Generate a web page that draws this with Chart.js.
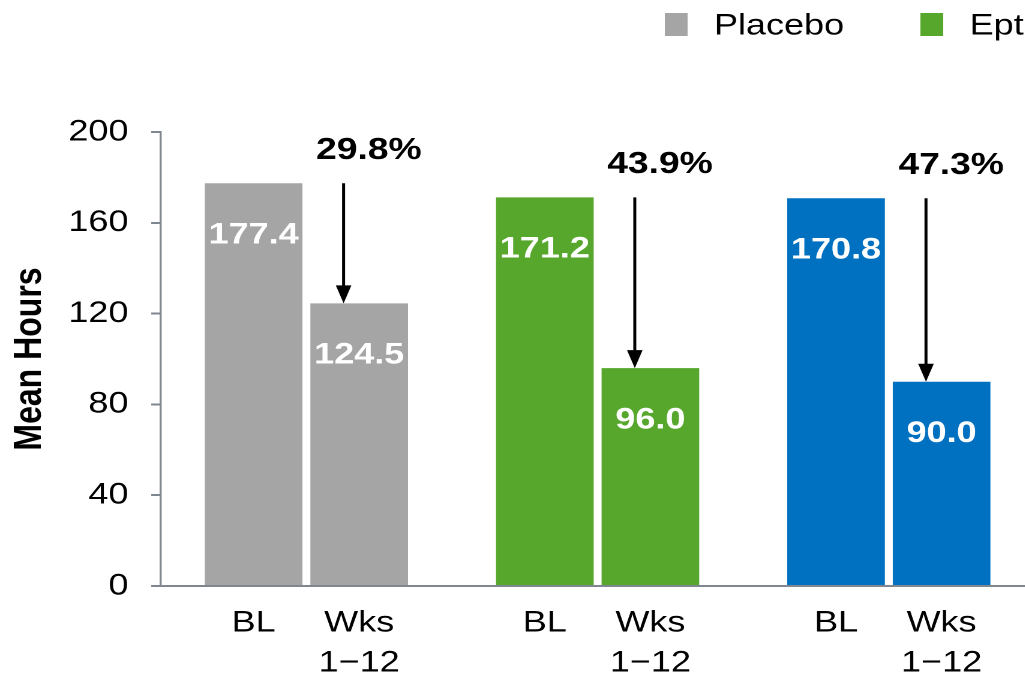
<!DOCTYPE html>
<html lang="en">
<head>
    <meta charset="UTF-8">
    <title>Mean Hours</title>
    <script src="https://cdn.jsdelivr.net/npm/chart.js"></script>
    <style>
        html, body {
            margin: 0;
            padding: 0;
            overflow: hidden;
            background: #fff;
        }
        /* the source picture is stretched sideways, so draw narrow and stretch */
        .wrap {
            width: 862px;
            height: 683px;
            transform: scaleX(1.2);
            transform-origin: 0 0;
        }
    </style>
</head>
<body>
    <div class="wrap">
        <canvas id="hoursChart" width="862" height="683"></canvas>
    </div>

    <script>
        const groups = ['Placebo', 'Ept', ''];
        const phases = ['BL', ['Wks', '1\u221212']];
        const baseline = [177.4, 171.2, 170.8];
        const weeks = [124.5, 96.0, 90.0];
        const reduction = ['29.8%', '43.9%', '47.3%'];
        const colors = ['#a5a5a5', '#56a72b', '#0070c0'];
        const yTicks = [0, 40, 80, 120, 160, 200];

        const FONT = '"Liberation Sans", Arial, sans-serif';
        const AXIS = '#7f8790';

        // values in the bars, drop arrows, bar captions and the legend
        const annotations = {
            id: 'annotations',
            afterDatasetsDraw(chart) {
                const ctx = chart.ctx;
                const bl = chart.getDatasetMeta(0).data;
                const wk = chart.getDatasetMeta(1).data;
                ctx.save();
                ctx.textAlign = 'center';
                ctx.textBaseline = 'middle';

                ctx.font = 'bold 30px ' + FONT;
                ctx.fillStyle = '#fff';
                [bl, wk].forEach((bars, d) => {
                    bars.forEach((bar, i) => {
                        const v = chart.data.datasets[d].data[i];
                        ctx.fillText(v.toFixed(1), bar.x, bar.y + 52);
                    });
                });

                ctx.fillStyle = '#000';
                ctx.strokeStyle = '#000';
                ctx.lineWidth = 2.5;
                bl.forEach((b, i) => {
                    const w = wk[i];
                    const ax = w.x - 13;
                    ctx.beginPath();
                    ctx.moveTo(ax, b.y);
                    ctx.lineTo(ax, w.y - 15);
                    ctx.stroke();
                    ctx.beginPath();
                    ctx.moveTo(ax - 6.5, w.y - 18);
                    ctx.lineTo(ax + 6.5, w.y - 18);
                    ctx.lineTo(ax, w.y);
                    ctx.closePath();
                    ctx.fill();

                    ctx.font = 'bold 31px ' + FONT;
                    ctx.fillText(reduction[i], w.x + 8, b.y - 33);
                });

                // captions under each bar
                ctx.font = '30px ' + FONT;
                const bottom = chart.chartArea.bottom;
                [bl, wk].forEach((bars, d) => {
                    const lines = [].concat(phases[d]);
                    bars.forEach(bar => {
                        lines.forEach((t, k) => ctx.fillText(t, bar.x, bottom + 37 + k * 40));
                    });
                });

                // legend, top right
                ctx.textAlign = 'left';
                groups.forEach((name, i) => {
                    if (!name) return;
                    const x = 554 + i * 213;
                    ctx.fillStyle = colors[i];
                    ctx.fillRect(x, 13, 19, 23);
                    ctx.fillStyle = '#000';
                    ctx.fillText(name, x + 19 + 22, 26);
                });
                ctx.restore();
            }
        };

        new Chart(document.getElementById('hoursChart'), {
            type: 'bar',
            data: {
                labels: groups,
                datasets: [
                    {
                        label: 'BL',
                        data: baseline,
                        backgroundColor: colors,
                        barPercentage: 0.925,
                        categoryPercentage: 0.725
                    },
                    {
                        label: 'Wks 1-12',
                        data: weeks,
                        backgroundColor: colors,
                        barPercentage: 0.925,
                        categoryPercentage: 0.725
                    }
                ]
            },
            options: {
                responsive: false,
                animation: false,
                devicePixelRatio: 2,
                layout: {
                    padding: { top: 132, bottom: 89, left: 0, right: 0 }
                },
                plugins: {
                    legend: { display: false },
                    tooltip: { enabled: false }
                },
                scales: {
                    x: {
                        offset: true,
                        ticks: { display: false },
                        grid: { display: false },
                        border: { display: true, color: AXIS, width: 2 }
                    },
                    y: {
                        min: 0,
                        max: 200,
                        afterBuildTicks: s => { s.ticks = yTicks.map(v => ({ value: v })); },
                        afterFit: s => { s.width = 134; },
                        ticks: {
                            color: '#000',
                            padding: 19,
                            font: { family: FONT, size: 30 }
                        },
                        grid: {
                            drawOnChartArea: false,
                            drawTicks: true,
                            tickLength: 8,
                            color: AXIS,
                            lineWidth: 2
                        },
                        border: { display: true, color: AXIS, width: 1.7 },
                        title: {
                            display: true,
                            text: 'Mean Hours',
                            color: '#000',
                            padding: { top: 6, bottom: 0 },
                            font: { family: FONT, size: 32, weight: 'bold' }
                        }
                    }
                }
            },
            plugins: [annotations]
        });
    </script>
</body>
</html>
